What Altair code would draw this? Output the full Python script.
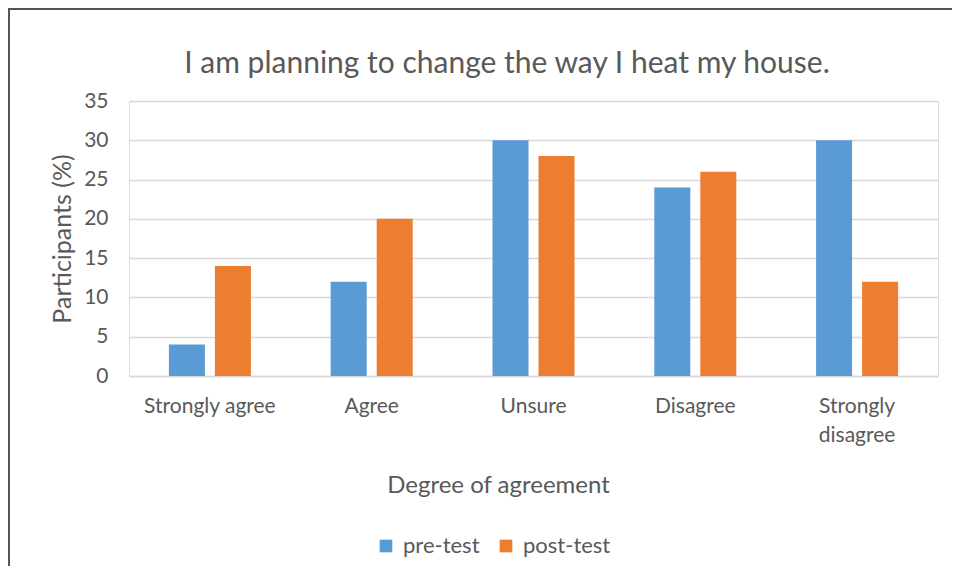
import altair as alt
import pandas as pd

categories = ["Strongly agree", "Agree", "Unsure", "Disagree", "Strongly disagree"]
pre_test = [4, 12, 30, 24, 30]
post_test = [14, 20, 28, 26, 12]
series = ["pre-test", "post-test"]
y_ticks = [0, 5, 10, 15, 20, 25, 30, 35]
title_text = "I am planning to change the way I heat my house."

rows = []
for c, a, b in zip(categories, pre_test, post_test):
    rows.append({"category": c, "series": "pre-test", "value": a})
    rows.append({"category": c, "series": "post-test", "value": b})
df = pd.DataFrame(rows)

FONT = "Lato"
GRAY = "#595959"
GRID = "#D9D9D9"

bars = alt.Chart(df).mark_bar().encode(
    x=alt.X(
        "category:N",
        sort=categories,
        scale=alt.Scale(paddingInner=0.493, paddingOuter=0.2465),
        axis=alt.Axis(
            title="Degree of agreement",
            labelAngle=0,
            labelFont=FONT,
            labelFontSize=21,
            labelColor=GRAY,
            labelPadding=19,
            labelLineHeight=29,
            labelExpr="datum.label == 'Strongly disagree' ? ['Strongly', 'disagree'] : datum.label",
            ticks=False,
            domainColor=GRID,
            domainWidth=1.5,
            titleFont=FONT,
            titleFontSize=24,
            titleFontWeight="normal",
            titleColor=GRAY,
            titlePadding=28,
            titleX=369,
            titleAlign="center",
        ),
    ),
    xOffset=alt.XOffset(
        "series:N", sort=series, scale=alt.Scale(paddingInner=0.217, paddingOuter=0)
    ),
    y=alt.Y(
        "value:Q",
        scale=alt.Scale(domain=[0, 35]),
        axis=alt.Axis(
            values=y_ticks,
            title="Participants (%)",
            labelFont=FONT,
            labelFontSize=21,
            labelColor=GRAY,
            labelPadding=21,
            ticks=False,
            domain=False,
            gridColor=GRID,
            gridWidth=1.5,
            titleFont=FONT,
            titleFontSize=25,
            titleFontWeight="normal",
            titleColor=GRAY,
            titlePadding=8,
        ),
    ),
    color=alt.Color(
        "series:N",
        sort=series,
        scale=alt.Scale(domain=series, range=["#5B9BD5", "#ED7D31"]),
        legend=alt.Legend(
            title=None,
            orient="none",
            direction="horizontal",
            legendX=246,
            legendY=434,
            symbolType="square",
            symbolSize=160,
            symbolStrokeWidth=0,
            labelFont=FONT,
            labelFontSize=22,
            labelColor=GRAY,
            labelOffset=6,
            columnPadding=15,
        ),
    ),
)

one_row = alt.Data(values=[{"t": title_text}])

frame_v = alt.Chart(one_row).mark_rule(
    color="#555555", strokeWidth=2
).encode(x=alt.value(-120), y=alt.value(-93), y2=alt.value(480))

frame_h = alt.Chart(one_row).mark_rule(
    color="#555555", strokeWidth=2
).encode(x=alt.value(-121), x2=alt.value(830), y=alt.value(-92))

title = alt.Chart(one_row).mark_text(
    font=FONT,
    fontSize=30,
    color=GRAY,
    align="center",
    baseline="alphabetic",
).encode(text="t:N", x=alt.value(378), y=alt.value(-28))

chart = (
    alt.layer(frame_v, frame_h, title, bars)
    .properties(
        width=809,
        height=275,
        padding={"left": 121, "top": 93, "right": 14, "bottom": 190},
        autosize=alt.AutoSizeParams(type="none"),
    )
    .configure_view(stroke=None)
    .configure(background="white")
)

chart.save("out.html", embed_options={"renderer": "svg", "actions": False})
